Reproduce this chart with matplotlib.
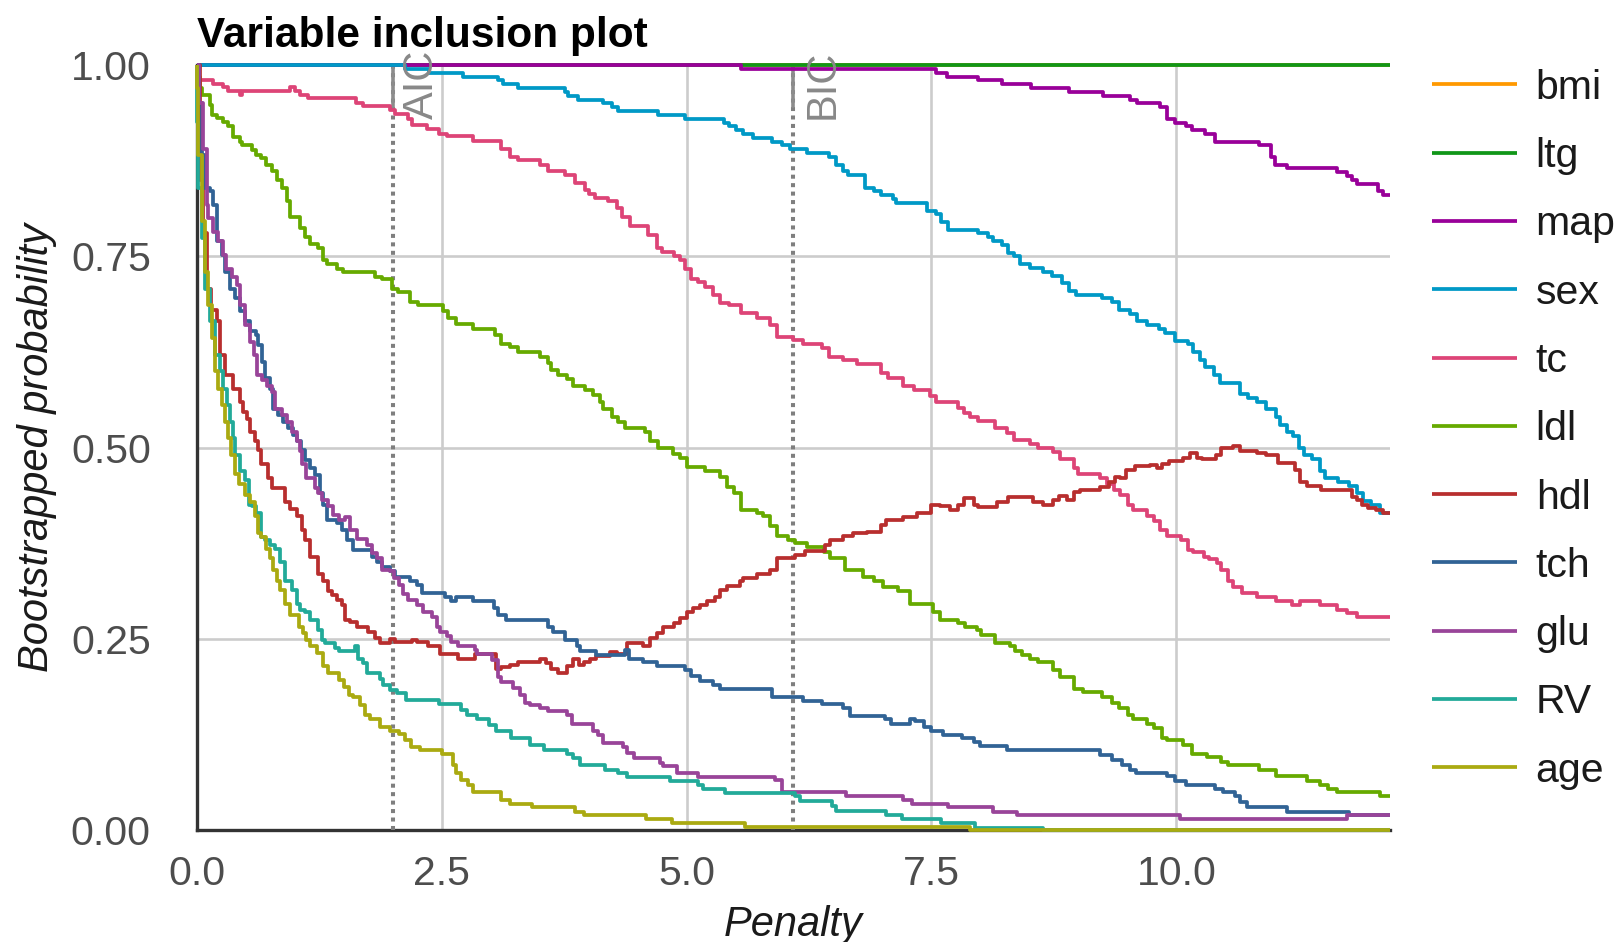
import matplotlib
matplotlib.use("Agg")
import matplotlib.pyplot as plt

plt.rcParams['font.family'] = ['Liberation Sans', 'DejaVu Sans']

# Penalty range and information-criterion penalties (n = 442)
penalty_max = 12.18
aic_penalty = 2.0
bic_penalty = 6.09

variables = ['bmi', 'ltg', 'map', 'sex', 'tc', 'ldl', 'hdl', 'tch', 'glu', 'RV', 'age']
colours = ['#FF9900', '#109618', '#990099', '#0099C6', '#DD4477', '#66AA00',
           '#B82E2E', '#316395', '#994499', '#22AA99', '#AAAA11']

# (penalty, bootstrapped inclusion probability) change points for each variable
bmi = [(0.0, 1.0)]
ltg = [(0.0, 1.0)]
map_ = [(0, 1.0), (5.56, 0.995), (7.55, 0.99), (7.66, 0.985), (7.98, 0.98), (8.22, 0.975),
        (8.52, 0.97), (8.90, 0.965), (9.25, 0.96), (9.53, 0.955), (9.60, 0.95), (9.83, 0.945),
        (9.90, 0.93), (9.99, 0.925), (10.10, 0.92), (10.16, 0.915), (10.29, 0.91), (10.39, 0.90),
        (10.84, 0.895), (10.97, 0.88), (11.01, 0.87), (11.13, 0.865), (11.64, 0.86), (11.74, 0.855),
        (11.79, 0.85), (11.84, 0.845), (12.06, 0.835), (12.11, 0.83)]
sex = [(0, 1.0), (2.13, 0.995), (2.37, 0.99), (2.72, 0.985), (3.08, 0.98), (3.13, 0.975),
       (3.28, 0.97), (3.76, 0.965), (3.79, 0.96), (3.89, 0.955), (4.15, 0.95), (4.24, 0.945),
       (4.30, 0.94), (4.71, 0.935), (4.98, 0.93), (5.38, 0.925), (5.43, 0.92), (5.50, 0.915),
       (5.58, 0.91), (5.68, 0.905), (5.87, 0.90), (5.97, 0.895), (6.06, 0.89), (6.23, 0.885),
       (6.45, 0.88), (6.53, 0.87), (6.60, 0.862), (6.65, 0.857), (6.82, 0.84), (6.91, 0.835),
       (6.99, 0.83), (7.11, 0.825), (7.14, 0.82), (7.45, 0.81), (7.55, 0.805), (7.60, 0.795),
       (7.67, 0.785), (7.98, 0.78), (8.08, 0.775), (8.13, 0.77), (8.22, 0.765), (8.28, 0.755),
       (8.34, 0.75), (8.40, 0.74), (8.51, 0.735), (8.64, 0.73), (8.73, 0.725), (8.83, 0.715),
       (8.90, 0.705), (8.98, 0.70), (9.24, 0.695), (9.34, 0.69), (9.41, 0.68), (9.53, 0.675),
       (9.60, 0.665), (9.70, 0.66), (9.82, 0.655), (9.88, 0.65), (9.99, 0.64), (10.12, 0.635),
       (10.17, 0.625), (10.24, 0.615), (10.29, 0.605), (10.38, 0.595), (10.45, 0.585),
       (10.65, 0.57), (10.73, 0.565), (10.82, 0.56), (10.92, 0.55), (11.02, 0.54), (11.06, 0.53),
       (11.13, 0.52), (11.19, 0.515), (11.25, 0.50), (11.30, 0.49), (11.38, 0.485), (11.47, 0.47),
       (11.52, 0.46), (11.65, 0.455), (11.76, 0.45), (11.84, 0.44), (11.91, 0.43), (11.99, 0.425),
       (12.08, 0.415)]
tc = [(0, 1.0), (0.02, 0.98), (0.17, 0.976), (0.27, 0.972), (0.32, 0.966), (0.44, 0.961),
      (0.46, 0.966), (0.95, 0.971), (1.00, 0.966), (1.05, 0.961), (1.14, 0.957), (1.63, 0.951),
      (1.70, 0.946), (1.97, 0.941), (2.02, 0.936), (2.16, 0.93), (2.20, 0.922), (2.35, 0.917),
      (2.47, 0.91), (2.55, 0.907), (2.82, 0.901), (3.11, 0.891), (3.20, 0.880), (3.28, 0.876),
      (3.50, 0.870), (3.59, 0.861), (3.76, 0.856), (3.86, 0.846), (3.96, 0.837), (4.00, 0.831),
      (4.07, 0.826), (4.20, 0.822), (4.29, 0.813), (4.34, 0.801), (4.42, 0.790), (4.61, 0.778),
      (4.70, 0.761), (4.75, 0.756), (4.87, 0.751), (4.93, 0.745), (4.98, 0.734), (5.05, 0.721),
      (5.12, 0.717), (5.19, 0.71), (5.27, 0.70), (5.34, 0.689), (5.43, 0.686), (5.56, 0.676),
      (5.72, 0.67), (5.85, 0.66), (5.92, 0.645), (6.09, 0.641), (6.19, 0.636), (6.38, 0.63),
      (6.45, 0.619), (6.60, 0.615), (6.74, 0.609), (6.99, 0.597), (7.06, 0.591), (7.21, 0.58),
      (7.32, 0.575), (7.49, 0.568), (7.55, 0.56), (7.77, 0.552), (7.83, 0.545), (7.89, 0.54),
      (7.98, 0.535), (8.15, 0.525), (8.27, 0.519), (8.34, 0.51), (8.51, 0.505), (8.59, 0.50),
      (8.74, 0.494), (8.81, 0.485), (8.95, 0.473), (9.00, 0.465), (9.22, 0.46), (9.29, 0.453),
      (9.36, 0.445), (9.42, 0.438), (9.51, 0.425), (9.56, 0.419), (9.70, 0.411), (9.77, 0.404),
      (9.83, 0.392), (9.90, 0.384), (10.05, 0.379), (10.12, 0.366), (10.17, 0.363), (10.28, 0.357),
      (10.33, 0.354), (10.41, 0.349), (10.46, 0.34), (10.53, 0.325), (10.58, 0.318), (10.67, 0.31),
      (10.82, 0.305), (11.02, 0.299), (11.18, 0.294), (11.26, 0.299), (11.47, 0.294),
      (11.64, 0.288), (11.74, 0.284), (11.84, 0.279)]
ldl = [(0, 1.0), (0.01, 0.985), (0.034, 0.97), (0.05, 0.961), (0.136, 0.948), (0.153, 0.935),
       (0.204, 0.931), (0.272, 0.926), (0.323, 0.921), (0.374, 0.906), (0.44, 0.90), (0.46, 0.896),
       (0.56, 0.889), (0.61, 0.883), (0.66, 0.878), (0.71, 0.870), (0.765, 0.861), (0.816, 0.850),
       (0.867, 0.839), (0.918, 0.822), (0.952, 0.801), (1.054, 0.787), (1.105, 0.776),
       (1.156, 0.766), (1.241, 0.761), (1.293, 0.745), (1.327, 0.740), (1.429, 0.734),
       (1.497, 0.730), (1.820, 0.723), (1.888, 0.720), (1.990, 0.708), (2.058, 0.704),
       (2.177, 0.691), (2.262, 0.686), (2.517, 0.678), (2.568, 0.669), (2.65, 0.661), (2.82, 0.655),
       (3.04, 0.647), (3.11, 0.636), (3.20, 0.631), (3.28, 0.625), (3.50, 0.619), (3.59, 0.61),
       (3.62, 0.601), (3.69, 0.595), (3.78, 0.59), (3.84, 0.58), (3.96, 0.575), (4.05, 0.569),
       (4.12, 0.56), (4.15, 0.55), (4.24, 0.54), (4.30, 0.534), (4.37, 0.525), (4.58, 0.52),
       (4.63, 0.508), (4.71, 0.499), (4.86, 0.492), (4.93, 0.486), (5.00, 0.475), (5.19, 0.47),
       (5.34, 0.462), (5.41, 0.449), (5.48, 0.44), (5.56, 0.419), (5.72, 0.415), (5.78, 0.41),
       (5.85, 0.397), (5.92, 0.384), (6.04, 0.379), (6.11, 0.375), (6.23, 0.37), (6.40, 0.364),
       (6.46, 0.355), (6.62, 0.34), (6.80, 0.331), (6.91, 0.325), (7.01, 0.318), (7.16, 0.312),
       (7.28, 0.295), (7.52, 0.285), (7.59, 0.275), (7.77, 0.27), (7.84, 0.265), (7.96, 0.261),
       (8.01, 0.255), (8.15, 0.245), (8.30, 0.24), (8.35, 0.234), (8.42, 0.229), (8.51, 0.224),
       (8.59, 0.22), (8.74, 0.209), (8.81, 0.20), (8.95, 0.185), (9.05, 0.18), (9.24, 0.174),
       (9.34, 0.166), (9.41, 0.159), (9.51, 0.15), (9.56, 0.145), (9.70, 0.139), (9.77, 0.133),
       (9.85, 0.12), (9.90, 0.118), (10.07, 0.111), (10.16, 0.10), (10.31, 0.095), (10.46, 0.089),
       (10.53, 0.085), (10.84, 0.079), (11.02, 0.07), (11.33, 0.064), (11.47, 0.059),
       (11.55, 0.054), (11.64, 0.05), (12.08, 0.044)]
hdl = [(0, 1.0), (0.03, 0.85), (0.06, 0.78), (0.10, 0.708), (0.15, 0.68), (0.204, 0.665),
       (0.238, 0.621), (0.289, 0.595), (0.374, 0.577), (0.44, 0.56), (0.476, 0.547), (0.51, 0.538),
       (0.544, 0.521), (0.595, 0.508), (0.63, 0.497), (0.66, 0.479), (0.73, 0.460), (0.765, 0.447),
       (0.90, 0.429), (0.95, 0.420), (1.02, 0.410), (1.07, 0.392), (1.105, 0.379), (1.156, 0.357),
       (1.24, 0.335), (1.29, 0.325), (1.34, 0.312), (1.38, 0.307), (1.43, 0.301), (1.48, 0.294),
       (1.515, 0.275), (1.566, 0.272), (1.633, 0.265), (1.752, 0.259), (1.82, 0.251), (1.87, 0.245),
       (1.97, 0.25), (2.02, 0.246), (2.20, 0.249), (2.25, 0.246), (2.36, 0.240), (2.48, 0.230),
       (2.67, 0.224), (2.84, 0.230), (3.06, 0.210), (3.11, 0.213), (3.20, 0.216), (3.28, 0.220),
       (3.50, 0.223), (3.57, 0.218), (3.62, 0.210), (3.69, 0.205), (3.78, 0.214), (3.84, 0.223),
       (3.90, 0.216), (3.95, 0.220), (4.01, 0.224), (4.08, 0.227), (4.22, 0.233), (4.29, 0.230),
       (4.39, 0.244), (4.56, 0.240), (4.63, 0.251), (4.70, 0.257), (4.76, 0.265), (4.87, 0.270),
       (4.93, 0.277), (5.00, 0.285), (5.07, 0.290), (5.14, 0.294), (5.21, 0.300), (5.29, 0.305),
       (5.34, 0.314), (5.41, 0.319), (5.55, 0.325), (5.58, 0.330), (5.72, 0.335), (5.85, 0.340),
       (5.92, 0.355), (6.11, 0.360), (6.21, 0.365), (6.41, 0.373), (6.46, 0.379), (6.60, 0.384),
       (6.70, 0.388), (6.84, 0.390), (6.99, 0.399), (7.04, 0.405), (7.21, 0.409), (7.35, 0.415),
       (7.50, 0.425), (7.59, 0.423), (7.69, 0.419), (7.77, 0.425), (7.83, 0.434), (7.93, 0.425),
       (7.98, 0.422), (8.17, 0.429), (8.28, 0.436), (8.35, 0.435), (8.54, 0.429), (8.64, 0.425),
       (8.74, 0.431), (8.80, 0.437), (8.88, 0.431), (8.95, 0.442), (9.02, 0.445), (9.22, 0.449),
       (9.31, 0.455), (9.37, 0.462), (9.42, 0.460), (9.49, 0.471), (9.58, 0.476), (9.73, 0.477),
       (9.80, 0.473), (9.85, 0.479), (9.92, 0.483), (10.00, 0.482), (10.07, 0.486), (10.14, 0.493),
       (10.21, 0.487), (10.26, 0.485), (10.40, 0.490), (10.46, 0.499), (10.58, 0.502),
       (10.65, 0.495), (10.82, 0.493), (10.92, 0.490), (11.04, 0.480), (11.21, 0.471),
       (11.26, 0.455), (11.33, 0.450), (11.48, 0.445), (11.79, 0.436), (11.84, 0.431),
       (11.89, 0.425), (11.96, 0.421), (12.04, 0.418), (12.11, 0.414)]
tch = [(0, 1.0), (0.02, 0.95), (0.05, 0.883), (0.085, 0.839), (0.136, 0.835), (0.17, 0.817),
       (0.204, 0.77), (0.255, 0.752), (0.29, 0.73), (0.34, 0.708), (0.39, 0.695), (0.442, 0.678),
       (0.49, 0.665), (0.544, 0.652), (0.61, 0.647), (0.63, 0.634), (0.663, 0.612), (0.70, 0.591),
       (0.748, 0.577), (0.78, 0.551), (0.833, 0.543), (0.884, 0.534), (0.935, 0.525),
       (0.986, 0.517), (1.02, 0.508), (1.06, 0.497), (1.11, 0.484), (1.16, 0.473), (1.21, 0.464),
       (1.26, 0.440), (1.29, 0.425), (1.33, 0.405), (1.43, 0.401), (1.48, 0.392), (1.53, 0.379),
       (1.60, 0.366), (1.79, 0.357), (1.84, 0.351), (1.89, 0.344), (1.97, 0.338), (2.02, 0.331),
       (2.18, 0.325), (2.25, 0.320), (2.30, 0.310), (2.53, 0.305), (2.60, 0.300), (2.65, 0.305),
       (2.82, 0.300), (3.03, 0.290), (3.08, 0.281), (3.16, 0.275), (3.59, 0.266), (3.64, 0.259),
       (3.76, 0.249), (3.88, 0.24), (3.91, 0.234), (4.08, 0.229), (4.37, 0.235), (4.41, 0.224),
       (4.56, 0.220), (4.70, 0.214), (4.98, 0.209), (5.05, 0.201), (5.14, 0.195), (5.27, 0.190),
       (5.34, 0.184), (5.87, 0.174), (6.19, 0.169), (6.38, 0.165), (6.60, 0.159), (6.67, 0.149),
       (7.03, 0.145), (7.09, 0.139), (7.28, 0.145), (7.33, 0.142), (7.42, 0.135), (7.50, 0.130),
       (7.62, 0.124), (7.81, 0.120), (7.93, 0.115), (8.00, 0.110), (8.27, 0.105), (9.22, 0.098),
       (9.34, 0.091), (9.44, 0.085), (9.53, 0.079), (9.59, 0.075), (9.90, 0.070), (9.99, 0.064),
       (10.10, 0.059), (10.39, 0.054), (10.48, 0.050), (10.60, 0.044), (10.65, 0.036),
       (10.72, 0.030), (11.13, 0.024), (11.76, 0.019)]
glu = [(0, 1.0), (0.02, 0.95), (0.068, 0.891), (0.10, 0.817), (0.12, 0.80), (0.17, 0.782),
       (0.22, 0.77), (0.27, 0.752), (0.30, 0.734), (0.357, 0.723), (0.41, 0.713), (0.44, 0.686),
       (0.49, 0.66), (0.544, 0.638), (0.58, 0.621), (0.612, 0.595), (0.663, 0.588), (0.714, 0.58),
       (0.765, 0.573), (0.80, 0.551), (0.867, 0.543), (0.92, 0.534), (0.97, 0.521), (1.02, 0.508),
       (1.05, 0.495), (1.07, 0.479), (1.12, 0.460), (1.21, 0.447), (1.24, 0.44), (1.28, 0.431),
       (1.34, 0.423), (1.39, 0.412), (1.45, 0.405), (1.515, 0.409), (1.566, 0.392), (1.633, 0.380),
       (1.735, 0.373), (1.786, 0.362), (1.837, 0.355), (1.888, 0.340), (1.97, 0.338), (2.01, 0.329),
       (2.06, 0.320), (2.11, 0.309), (2.16, 0.301), (2.25, 0.294), (2.31, 0.285), (2.40, 0.279),
       (2.45, 0.266), (2.48, 0.259), (2.55, 0.253), (2.60, 0.246), (2.67, 0.240), (2.84, 0.235),
       (2.86, 0.230), (3.01, 0.222), (3.08, 0.200), (3.11, 0.194), (3.23, 0.186), (3.30, 0.177),
       (3.35, 0.166), (3.40, 0.163), (3.50, 0.159), (3.59, 0.155), (3.78, 0.150), (3.83, 0.139),
       (4.05, 0.13), (4.10, 0.124), (4.15, 0.114), (4.35, 0.108), (4.39, 0.101), (4.46, 0.094),
       (4.73, 0.088), (4.76, 0.084), (4.90, 0.074), (5.12, 0.069), (5.90, 0.065), (5.97, 0.050),
       (6.63, 0.044), (7.21, 0.039), (7.30, 0.034), (7.67, 0.030), (8.13, 0.024), (8.37, 0.019),
       (10.04, 0.014), (11.74, 0.019)]
rv = [(0, 1.0), (0.005, 0.926), (0.017, 0.839), (0.05, 0.774), (0.085, 0.708), (0.136, 0.665),
      (0.187, 0.621), (0.24, 0.60), (0.27, 0.577), (0.31, 0.556), (0.34, 0.534), (0.37, 0.512),
      (0.39, 0.49), (0.44, 0.469), (0.49, 0.458), (0.53, 0.425), (0.56, 0.423), (0.61, 0.414),
      (0.66, 0.383), (0.70, 0.379), (0.75, 0.373), (0.80, 0.368), (0.85, 0.351), (0.90, 0.325),
      (0.97, 0.314), (1.02, 0.296), (1.05, 0.288), (1.11, 0.285), (1.16, 0.275), (1.24, 0.261),
      (1.28, 0.248), (1.31, 0.244), (1.41, 0.238), (1.45, 0.234), (1.62, 0.240), (1.65, 0.224),
      (1.70, 0.218), (1.74, 0.205), (1.87, 0.198), (1.90, 0.190), (1.97, 0.183), (2.04, 0.179),
      (2.14, 0.170), (2.47, 0.165), (2.70, 0.157), (2.76, 0.150), (2.86, 0.145), (2.98, 0.137),
      (3.06, 0.129), (3.21, 0.120), (3.40, 0.111), (3.55, 0.105), (3.78, 0.100), (3.84, 0.094),
      (3.91, 0.085), (4.17, 0.079), (4.30, 0.074), (4.39, 0.069), (4.83, 0.064), (5.12, 0.059),
      (5.17, 0.054), (5.39, 0.049), (6.11, 0.044), (6.16, 0.038), (6.48, 0.031), (6.53, 0.025),
      (7.04, 0.020), (7.20, 0.014), (7.60, 0.009), (7.94, 0.003), (8.64, 0.0)]
age = [(0, 1.0), (0.005, 0.97), (0.017, 0.883), (0.05, 0.796), (0.085, 0.73), (0.12, 0.687),
       (0.153, 0.643), (0.187, 0.60), (0.22, 0.577), (0.255, 0.556), (0.29, 0.534), (0.323, 0.512),
       (0.345, 0.49), (0.39, 0.466), (0.43, 0.453), (0.49, 0.438), (0.54, 0.429), (0.595, 0.410),
       (0.63, 0.388), (0.66, 0.383), (0.71, 0.368), (0.75, 0.355), (0.78, 0.340), (0.82, 0.325),
       (0.85, 0.314), (0.90, 0.296), (0.95, 0.281), (1.04, 0.266), (1.09, 0.257), (1.12, 0.248),
       (1.16, 0.240), (1.23, 0.232), (1.29, 0.214), (1.34, 0.205), (1.45, 0.196), (1.50, 0.187),
       (1.55, 0.177), (1.60, 0.174), (1.67, 0.163), (1.72, 0.150), (1.77, 0.145), (1.87, 0.135),
       (1.97, 0.129), (2.06, 0.126), (2.13, 0.118), (2.19, 0.109), (2.28, 0.105), (2.50, 0.099),
       (2.62, 0.085), (2.65, 0.074), (2.70, 0.065), (2.77, 0.059), (2.82, 0.050), (3.11, 0.039),
       (3.20, 0.034), (3.42, 0.030), (3.86, 0.024), (3.95, 0.019), (4.59, 0.014), (4.85, 0.009),
       (5.60, 0.004), (7.89, 0.0)]

series = [bmi, ltg, map_, sex, tc, ldl, hdl, tch, glu, rv, age]

fig = plt.figure(figsize=(16.23, 9.42), dpi=100)
ax = fig.add_axes([0.1212, 0.1189, 0.7352, 0.8119])

for name, colour, points in zip(variables, colours, series):
    pen = [p for p, _ in points] + [penalty_max]
    prob = [q for _, q in points] + [points[-1][1]]
    ax.step(pen, prob, where='post', color=colour, lw=2.7, label=name,
            zorder=3, clip_on=False, solid_capstyle='butt')

# AIC / BIC reference penalties
for pen, lab in [(aic_penalty, 'AIC'), (bic_penalty, 'BIC')]:
    ax.axvline(pen, color='#7F7F7F', lw=2.9, ls=(0, (1.0, 1.1)), zorder=2.6)
    ax.plot([pen, pen], [0.947, 1.0], color='#8C8C8C', lw=2.6, zorder=2.6)
    ax.text(pen + 0.415, 0.93, lab, rotation=90, rotation_mode='anchor',
            ha='left', va='baseline', color='#888888', fontsize=30, zorder=4)

ax.set_xlim(0, penalty_max)
ax.set_ylim(0, 1)
ax.set_xticks([0, 2.5, 5, 7.5, 10])
ax.set_xticklabels(['0.0', '2.5', '5.0', '7.5', '10.0'])
ax.set_yticks([0, 0.25, 0.5, 0.75, 1.0])
ax.set_yticklabels(['0.00', '0.25', '0.50', '0.75', '1.00'])
ax.tick_params(length=0, labelsize=29.5, labelcolor='#4D4D4D')
ax.tick_params(axis='y', pad=33)
ax.tick_params(axis='x', pad=18)

ax.grid(True, color='#CCCCCC', lw=1.9)
ax.set_axisbelow(True)
for side in ['top', 'right']:
    ax.spines[side].set_visible(False)
for side in ['left', 'bottom']:
    ax.spines[side].set_color('#333333')
    ax.spines[side].set_linewidth(2.4)

fig.text(196.7 / 1623, 1 - 46.7 / 942, 'Variable inclusion plot', fontsize=30.5,
         fontweight='bold', ha='left', va='baseline', color='black')
fig.text(37 / 1623, 1 - 447.6 / 942, 'Bootstrapped probability', rotation=90,
         style='italic', fontsize=30, ha='center', va='center', color='#1A1A1A')
fig.text(793 / 1623, 1 - 936 / 942, 'Penalty', style='italic', fontsize=30,
         ha='center', va='baseline', color='#1A1A1A')

handles, labels = ax.get_legend_handles_labels()
leg = fig.legend(handles, labels, loc='upper left', bbox_to_anchor=(1432 / 1623, 1 - 68.6 / 942),
                 frameon=False, fontsize=29.5, handlelength=2.07, handletextpad=0.46,
                 labelspacing=0.74, borderpad=0, borderaxespad=0)
for t in leg.get_texts():
    t.set_color('#1A1A1A')

fig.savefig('out.png', dpi=100)
